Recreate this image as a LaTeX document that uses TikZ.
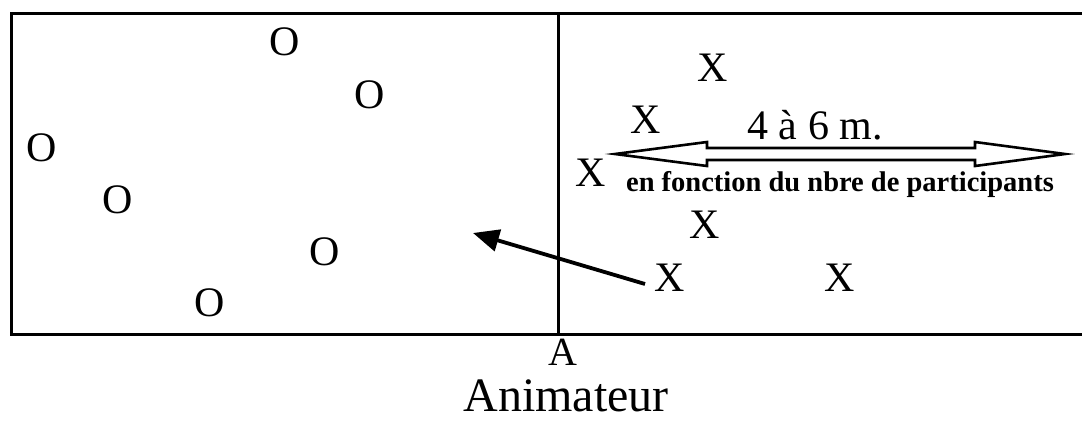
\documentclass[tikz,border=0pt]{standalone}
\usepackage{fontspec}
\setmainfont{Liberation Serif}
\usetikzlibrary{arrows.meta}
\begin{document}
\begin{tikzpicture}[x=1pt,y=-1pt,
  player/.style={font=\fontsize{42}{46}\selectfont, inner sep=0pt},
  frame/.style={line width=3pt},
  measure/.style={line width=2.6pt, line join=miter},
  move/.style={line width=3.8pt, -{Triangle[length=26pt,width=22pt]}}]
\useasboundingbox (0,0) rectangle (1082,432);
% field
\draw[frame] (1084,13) -- (11,13) -- (11,334) -- (1084,334);
\draw[frame] (558,13) -- (558,334);
% O players
\node[player] (o1) at (285,42) {O};
\node[player] (o2) at (370,95) {O};
\node[player] (o3) at (42,148) {O};
\node[player] (o4) at (118,200) {O};
\node[player] (o5) at (325,252) {O};
\node[player] (o6) at (210,303) {O};
% X players
\node[player] (x1) at (713,68) {X};
\node[player] (x2) at (646,120) {X};
\node[player] (x3) at (591,173) {X};
\node[player] (x4) at (705,225) {X};
\node[player] (x5) at (670,278) {X};
\node[player] (x6) at (840,278) {X};
% distance
\node[player] (dist) at (815,125) {4 à 6 m.};
\draw[measure] (615,154) -- (707,142) -- (707,148) -- (975,148) -- (975,142)
  -- (1065,154) -- (975,166) -- (975,160) -- (707,160) -- (707,166) -- cycle;
\node[inner sep=0pt, font=\fontsize{28.5}{31}\selectfont\bfseries] (note) at (840,184) {en fonction du nbre de participants};
% movement
\coordinate (mstart) at (645,284);
\coordinate (mend) at (473,233);
\draw[move] (mstart) -- (mend);
% animator
\node[player, font=\fontsize{40}{44}\selectfont] (a) at (563,352) {A};
\node[inner sep=0pt, font=\fontsize{48}{52}\selectfont] (anim) at (566,396) {Animateur};
\end{tikzpicture}
\end{document}
